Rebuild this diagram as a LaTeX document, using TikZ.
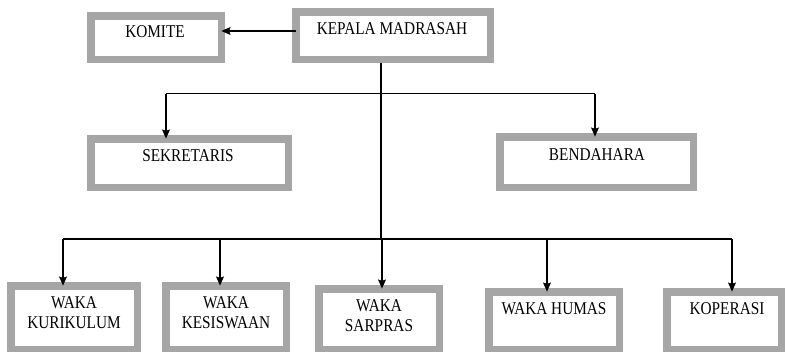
\documentclass[tikz,border=0pt]{standalone}
\usepackage{fontspec}
\setmainfont{Liberation Serif}[FakeStretch=0.85]
\usetikzlibrary{arrows.meta}
\definecolor{boxgrey}{HTML}{A6A6A6}
\tikzset{
  orgbox/.style={draw=boxgrey, line width=7.5pt, fill=white, inner sep=0pt, outer sep=0pt},
  lbl/.style={inner sep=0pt, font=\fontsize{18}{20}\selectfont, align=center, anchor=north},
  conn/.style={line width=1.1pt, black},
  arr/.style={line width=2pt, black, -{Stealth[length=9pt,width=7.5pt,inset=1pt]}},
}
\begin{document}
\begin{tikzpicture}[x=1pt,y=-1pt]
\useasboundingbox (0,0) rectangle (785,351);
% boxes
\node[orgbox, minimum width=130.5pt, minimum height=43.5pt] (kom) at (156,37.5) {};
\node[orgbox, minimum width=194.5pt, minimum height=47.5pt] (kep) at (393,35.5) {};
\node[orgbox, minimum width=197.5pt, minimum height=48.5pt] (sek) at (189.5,163) {};
\node[orgbox, minimum width=193.5pt, minimum height=50.5pt] (ben) at (596.5,162) {};
\node[orgbox, minimum width=126.5pt, minimum height=63.5pt] (kur) at (74,317.5) {};
\node[orgbox, minimum width=120.5pt, minimum height=63.5pt] (kes) at (226,317.5) {};
\node[orgbox, minimum width=120.5pt, minimum height=60.5pt] (sar) at (379,319) {};
\node[orgbox, minimum width=130.5pt, minimum height=57.5pt] (hum) at (554,320.5) {};
\node[orgbox, minimum width=114.5pt, minimum height=57.5pt] (kop) at (724,320.5) {};
% labels
\node[lbl] (tkom) at (155,25.5) {KOMITE};
\node[lbl] (tkep) at (392,22) {KEPALA MADRASAH};
\node[lbl] (tsek) at (188,149) {SEKRETARIS};
\node[lbl] (tben) at (597,148) {BENDAHARA};
\node[lbl] (tkur) at (74,296) {WAKA\\KURIKULUM};
\node[lbl] (tkes) at (226,296) {WAKA\\KESISWAAN};
\node[lbl] (tsar) at (379,299) {WAKA\\SARPRAS};
\node[lbl] (thum) at (554,302) {WAKA HUMAS};
\node[lbl] (tkop) at (727,302) {KOPERASI};
% connector coordinates
\coordinate (trTop) at (381,63);
\coordinate (bus1) at (381,93.5);
\coordinate (sekT) at (166,93.5);
\coordinate (benT) at (595,93.5);
\coordinate (bus2) at (381,239);
\coordinate (kurT) at (63,239);
\coordinate (kesT) at (220,239);
\coordinate (sarT) at (382,239);
\coordinate (humT) at (547,239);
\coordinate (kopT) at (732,239);
% connectors
\draw[arr] ([yshift=4.5pt]kep.west) -- ([yshift=4.5pt]kep.west -| kom.east);
\draw[conn] (trTop) -- (bus2);
\draw[conn] (sekT) -- (benT);
\draw[arr] (sekT) -- (sekT |- sek.north);
\draw[arr] (benT) -- (benT |- ben.north);
\draw[conn] (kurT) -- (kopT);
\draw[arr] (kurT) -- (kurT |- kur.north);
\draw[arr] (kesT) -- (kesT |- kes.north);
\draw[arr] (sarT) -- (sarT |- sar.north);
\draw[arr] (humT) -- (humT |- hum.north);
\draw[arr] (kopT) -- (kopT |- kop.north);
\end{tikzpicture}
\end{document}
